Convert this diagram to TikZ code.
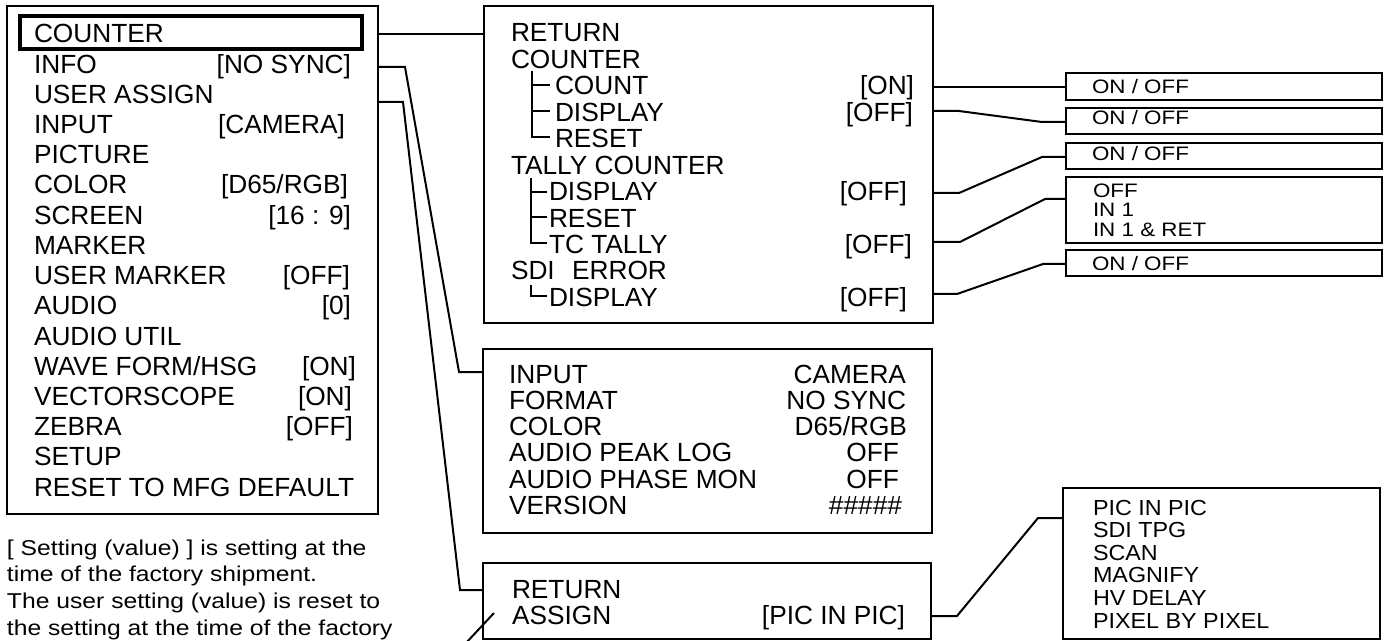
\documentclass[tikz,border=0pt]{standalone}
\usepackage{fontspec}
\setmainfont{Liberation Sans}
\newfontfamily\wfont[FakeStretch=1.15]{Liberation Sans}
\newfontfamily\pfont[FakeStretch=1.07]{Liberation Sans}
\tikzset{
  box/.style={draw, line width=1.5pt, rectangle, inner sep=0pt, outer sep=0pt, anchor=north west},
  hlbox/.style={box, line width=2.6pt},
  conn/.style={line width=1.5pt, line join=miter},
  tree/.style={line width=1.1pt},
  txt/.style={inner sep=0pt, outer sep=0pt, anchor=base west, font=\fontsize{19.7pt}{23pt}\selectfont},
  val/.style={txt, anchor=base east},
  wtxt/.style={inner sep=0pt, outer sep=0pt, anchor=base west, font=\wfont\fontsize{14.6pt}{17pt}\selectfont},
  ptxt/.style={inner sep=0pt, outer sep=0pt, anchor=base west, font=\pfont\fontsize{16.35pt}{19pt}\selectfont},
  ftxt/.style={inner sep=0pt, outer sep=0pt, anchor=base west, font=\wfont\fontsize{16.1pt}{19pt}\selectfont}
}
\begin{document}
\begin{tikzpicture}[x=0.75pt,y=-0.75pt]
\fill[white] (0,0) rectangle (1391,641);
\useasboundingbox (0,0) rectangle (1391,641);

% ---------- boxes ----------
\node[box, minimum width=371*0.75pt, minimum height=508*0.75pt] (lbox) at (7,6) {};
\node[hlbox, minimum width=342*0.75pt, minimum height=33*0.75pt] (hl) at (20,16) {};
\node[box, minimum width=449*0.75pt, minimum height=317*0.75pt] (cbox) at (484,6) {};
\node[box, minimum width=449*0.75pt, minimum height=184*0.75pt] (ibox) at (483,349) {};
\node[box, minimum width=448*0.75pt, minimum height=76*0.75pt] (abox) at (483,563) {};
\node[box, minimum width=316*0.75pt, minimum height=27*0.75pt] (b1) at (1066,73) {};
\node[box, minimum width=316*0.75pt, minimum height=26*0.75pt] (b2) at (1066,108) {};
\node[box, minimum width=316*0.75pt, minimum height=26*0.75pt] (b3) at (1066,143) {};
\node[box, minimum width=316*0.75pt, minimum height=66*0.75pt] (b4) at (1066,177) {};
\node[box, minimum width=316*0.75pt, minimum height=26*0.75pt] (b5) at (1066,250) {};
\node[box, minimum width=317*0.75pt, minimum height=151*0.75pt] (pbox) at (1063,488) {};

% ---------- left menu ----------
\node[txt] (l1) at (34,43) {COUNTER};
\node[txt] (l2) at (34,73.2) {INFO};
\node[val] (v2) at (351,73.2) {[NO SYNC]};
\node[txt] (l3) at (34,103.4) {USER ASSIGN};
\node[txt] (l4) at (34,133.6) {INPUT};
\node[val] (v4) at (345,133.6) {[CAMERA]};
\node[txt] (l5) at (34,163.8) {PICTURE};
\node[txt] (l6) at (34,194) {COLOR};
\node[val] (v6) at (348,194) {[D65/RGB]};
\node[txt] (l7) at (34,224.2) {SCREEN};
\node[val] (v7) at (351,224.2) {[16 : 9]};
\node[txt] (l8) at (34,254.4) {MARKER};
\node[txt] (l9) at (34,284.6) {USER MARKER};
\node[val] (v9) at (350,284.6) {[OFF]};
\node[txt] (l10) at (34,314.8) {AUDIO};
\node[val] (v10) at (351,314.8) {[0]};
\node[txt] (l11) at (34,345) {AUDIO UTIL};
\node[txt] (l12) at (34,375.2) {WAVE FORM/HSG};
\node[val] (v12) at (356,375.2) {[ON]};
\node[txt] (l13) at (34,405.4) {VECTORSCOPE};
\node[val] (v13) at (352,405.4) {[ON]};
\node[txt] (l14) at (34,435.6) {ZEBRA};
\node[val] (v14) at (353,435.6) {[OFF]};
\node[txt] (l15) at (34,465.8) {SETUP};
\node[txt] (l16) at (34,496) {RESET TO MFG DEFAULT};

% ---------- footnote ----------
\node[ftxt] (f1) at (7,555) {[ Setting (value) ] is setting at the};
\node[ftxt] (f2) at (7,581) {time of the factory shipment.};
\node[ftxt] (f3) at (7,608) {The user setting (value) is reset to};
\node[ftxt] (f4) at (7,635) {the setting at the time of the factory};

% ---------- counter box ----------
\node[txt] (c1) at (511,42) {RETURN};
\node[txt] (c2) at (511,68.5) {COUNTER};
\node[txt] (c3) at (555,95) {COUNT};
\node[val] (cv3) at (914,95) {[ON]};
\node[txt] (c4) at (555,121.4) {DISPLAY};
\node[val] (cv4) at (913,121.4) {[OFF]};
\node[txt] (c5) at (555,147.8) {RESET};
\node[txt] (c6) at (511,174.3) {TALLY COUNTER};
\node[txt] (c7) at (549,200.7) {DISPLAY};
\node[val] (cv7) at (907,200.7) {[OFF]};
\node[txt] (c8) at (549,227.2) {RESET};
\node[txt] (c9) at (549,253.6) {TC TALLY};
\node[val] (cv9) at (912,253.6) {[OFF]};
\node[txt] (c10) at (511,280) {SDI\hspace{13pt}ERROR};
\node[txt] (c11) at (549,306.5) {DISPLAY};
\node[val] (cv11) at (907,306.5) {[OFF]};
% tree lines
\draw[tree] (532,71) -- (532,137) -- (550,137);
\draw[tree] (532,85) -- (550,85);
\draw[tree] (532,111) -- (550,111);
\draw[tree] (531,178) -- (531,243) -- (547,243);
\draw[tree] (531,192) -- (547,192);
\draw[tree] (531,217) -- (547,217);
\draw[tree] (531,285) -- (531,296) -- (547,296);

% ---------- info box ----------
\node[txt] (i1) at (509,383) {INPUT};
\node[val] (iv1) at (906,383) {CAMERA};
\node[txt] (i2) at (509,409.3) {FORMAT};
\node[val] (iv2) at (906,409.3) {NO SYNC};
\node[txt] (i3) at (509,435.6) {COLOR};
\node[val] (iv3) at (907,435.6) {D65/RGB};
\node[txt] (i4) at (509,461.9) {AUDIO PEAK LOG};
\node[val] (iv4) at (899,461.9) {OFF};
\node[txt] (i5) at (509,488.2) {AUDIO PHASE MON};
\node[val] (iv5) at (899,488.2) {OFF};
\node[txt] (i6) at (509,514.5) {VERSION};
\node[val] (iv6) at (902,514.5) {\#\#\#\#\#};

% ---------- assign box ----------
\node[txt] (a1) at (512,598) {RETURN};
\node[txt] (a2) at (512,624) {ASSIGN};
\node[val] (av2) at (905,624) {[PIC IN PIC]};

% ---------- option boxes ----------
\node[wtxt] (o1) at (1092,94) {ON / OFF};
\node[wtxt] (o2) at (1092,125) {ON / OFF};
\node[wtxt] (o3) at (1092,161) {ON / OFF};
\node[wtxt] (o4a) at (1093,198) {OFF};
\node[wtxt] (o4b) at (1093,217) {IN 1};
\node[wtxt] (o4c) at (1093,237) {IN 1 \& RET};
\node[wtxt] (o5) at (1092,271) {ON / OFF};

\node[ptxt] (p1) at (1093,515) {PIC IN PIC};
\node[ptxt] (p2) at (1093,537.6) {SDI TPG};
\node[ptxt] (p3) at (1093,560.2) {SCAN};
\node[ptxt] (p4) at (1093,582.8) {MAGNIFY};
\node[ptxt] (p5) at (1093,605.4) {HV DELAY};
\node[ptxt] (p6) at (1093,628) {PIXEL BY PIXEL};

% ---------- connector heights ----------
\coordinate (y1) at (0,34);
\coordinate (y2) at (0,67);
\coordinate (y3) at (0,102);
\coordinate (yI) at (0,372);
\coordinate (yA) at (0,590);
\coordinate (yc3) at (0,87);
\coordinate (yc4) at (0,111);
\coordinate (yb2) at (0,122);
\coordinate (yc7) at (0,193);
\coordinate (yb3) at (0,157);
\coordinate (yc9) at (0,242);
\coordinate (yb4) at (0,199);
\coordinate (yc11) at (0,294);
\coordinate (yb5) at (0,264);
\coordinate (yav) at (0,616);
\coordinate (yp) at (0,518);
\coordinate (fragA) at (494,613);
\coordinate (fragB) at (466,643);

% ---------- connectors ----------
\draw[conn] (lbox.east |- y1) -- (cbox.west |- y1);
\draw[conn] (lbox.east |- y2) -- (405,67) -- (459,372) -- (ibox.west |- yI);
\draw[conn] (lbox.east |- y3) -- (403,102) -- (460,590) -- (abox.west |- yA);
\draw[conn] (cbox.east |- yc3) -- (b1.west |- yc3);
\draw[conn] (cbox.east |- yc4) -- (959,111) -- (1042,122) -- (b2.west |- yb2);
\draw[conn] (cbox.east |- yc7) -- (959,193) -- (1042,157) -- (b3.west |- yb3);
\draw[conn] (cbox.east |- yc9) -- (960,242) -- (1045,199) -- (b4.west |- yb4);
\draw[conn] (cbox.east |- yc11) -- (957,294) -- (1043,264) -- (b5.west |- yb5);
\draw[conn] (abox.east |- yav) -- (957,616) -- (1038,518) -- (pbox.west |- yp);
\draw[conn] (fragA) -- (fragB);
\end{tikzpicture}
\end{document}
